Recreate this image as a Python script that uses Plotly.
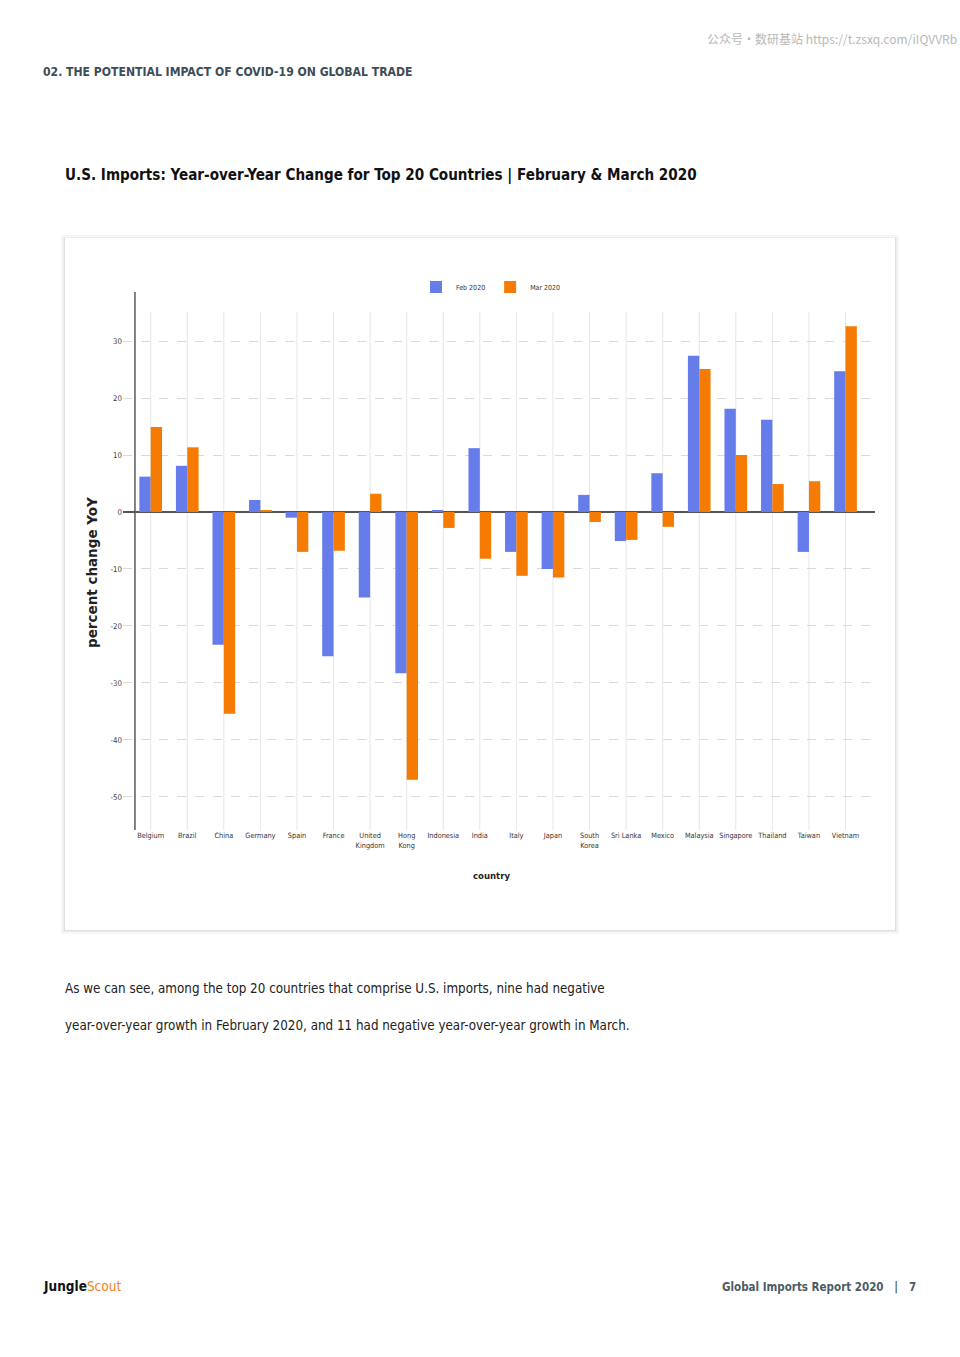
import plotly.graph_objects as go

countries = ["Belgium", "Brazil", "China", "Germany", "Spain", "France", "United<br>Kingdom",
             "Hong<br>Kong", "Indonesia", "India", "Italy", "Japan", "South<br>Korea", "Sri Lanka",
             "Mexico", "Malaysia", "Singapore", "Thailand", "Taiwan", "Vietnam"]
feb_2020 = [6.2, 8.1, -23.3, 2.1, -1.0, -25.3, -15.0, -28.3, 0.35, 11.2,
            -7.0, -10.0, 3.0, -5.1, 6.8, 27.4, 18.1, 16.2, -7.0, 24.7]
mar_2020 = [14.9, 11.35, -35.4, 0.3, -7.0, -6.8, 3.2, -47.0, -2.8, -8.2,
            -11.2, -11.5, -1.75, -4.9, -2.6, 25.1, 10.0, 4.9, 5.4, 32.6]
y_ticks = [-50, -40, -30, -20, -10, 0, 10, 20, 30]
y_tick_labels = ["-50", "-40", "-30", "-20", "-10", "0", "10", "20", "30"]

W, H = 960, 1357
COND = "DejaVu Sans Condensed, Liberation Sans Narrow, sans-serif"


def px(x):
    return x / W


def py(y):
    return 1 - y / H


xs = list(range(len(countries)))

fig = go.Figure()
fig.add_trace(go.Bar(x=xs, y=feb_2020, name="Feb 2020", marker=dict(color="#657CEA", line=dict(width=0))))
fig.add_trace(go.Bar(x=xs, y=mar_2020, name="Mar 2020", marker=dict(color="#F57B02", line=dict(width=0))))

shapes = []
# card shadow + card
for off, col in [(4, "rgba(0,0,0,0.03)"), (2, "rgba(0,0,0,0.045)"), (1, "rgba(0,0,0,0.055)")]:
    shapes.append(dict(type="rect", xref="paper", yref="paper", layer="below",
                       x0=px(65 - off), x1=px(895 + off), y0=py(930 + off), y1=py(238 - off + 1),
                       fillcolor=col, line=dict(width=0)))
shapes.append(dict(type="rect", xref="paper", yref="paper", layer="below",
                   x0=px(65), x1=px(895), y0=py(930), y1=py(238),
                   fillcolor="white", line=dict(width=0)))
# vertical category gridlines
for i in xs:
    shapes.append(dict(type="line", xref="x", yref="y", layer="below",
                       x0=i, x1=i, y0=35.1, y1=-55.8, line=dict(color="#E3E7EB", width=1)))
# y axis line
shapes.append(dict(type="line", xref="x", yref="y domain", x0=-0.43, x1=-0.43, y0=0, y1=1,
                   line=dict(color="#5a5a5a", width=1.5)))


def ann(text, x, y, xanchor="left", size=12, color="#222222", family=COND, **kw):
    return dict(text=text, x=px(x), y=py(y), xref="paper", yref="paper", xanchor=xanchor,
                yanchor="middle", showarrow=False, borderpad=0,
                font=dict(family=family, size=size, color=color), **kw)


annotations = [
    ann("公众号·数研基站 https://t.zsxq.com/iIQVVRb", 958, 39, "right", 12, "#b8b8b8",
        "Noto Sans CJK SC, " + COND),
    ann("<b>02. THE POTENTIAL IMPACT OF COVID-19 ON GLOBAL TRADE</b>", 42, 72, "left", 12.1, "#3E4C57"),
    ann("<b>U.S. Imports: Year-over-Year Change for Top 20 Countries | February & March 2020</b>",
        64, 176, "left", 15.1, "#111111"),
    ann("<b>percent change YoY</b>", 92, 573, "center", 13.5, "#222222", "DejaVu Sans, sans-serif",
        textangle=-90),
    ann("<b>country</b>", 491, 875, "center", 9.5, "#222222"),
    ann("As we can see, among the top 20 countries that comprise U.S. imports, nine had negative",
        64, 989, "left", 13.3, "#222222"),
    ann("year-over-year growth in February 2020, and 11 had negative year-over-year growth in March.",
        64, 1025, "left", 13.3, "#222222"),
    ann("<b>Jungle</b><span style='color:#F58220'>Scout</span>", 42, 1286, "left", 13.5, "#111111"),
    ann("<b>Global Imports Report 2020   |   7</b>", 917, 1287, "right", 11.5, "#4B5B67"),
]

fig.update_layout(
    width=W, height=H,
    margin=dict(l=0, r=0, t=0, b=0),
    paper_bgcolor="white", plot_bgcolor="rgba(0,0,0,0)",
    barmode="group", bargap=0.38, bargroupgap=0,
    shapes=shapes, annotations=annotations,
    legend=dict(orientation="h", x=px(491), y=py(287), xanchor="center", yanchor="middle",
                font=dict(family=COND, size=7, color="#333333"), itemwidth=30,
                bgcolor="rgba(0,0,0,0)"),
    xaxis=dict(domain=[px(123), px(875)], range=[-0.757, 19.806], tickmode="array",
               tickvals=xs, ticktext=countries, showgrid=False, zeroline=False, showline=False,
               ticks="", tickfont=dict(family=COND, size=7.3, color="#333333")),
    yaxis=dict(domain=[py(830), py(292)], range=[-55.8, 38.6], tickmode="array", tickvals=y_ticks,
               ticktext=y_tick_labels,
               showgrid=True, gridcolor="#DADADA", griddash="dash", gridwidth=1,
               zeroline=True, zerolinecolor="#555555", zerolinewidth=1.5, showline=False,
               ticks="", tickfont=dict(family=COND, size=7.8, color="#444444")),
    showlegend=True,
)

fig.write_html("out.html", config={"displayModeBar": False},
               post_script="document.body.style.margin='0';document.body.style.overflow='hidden';")
